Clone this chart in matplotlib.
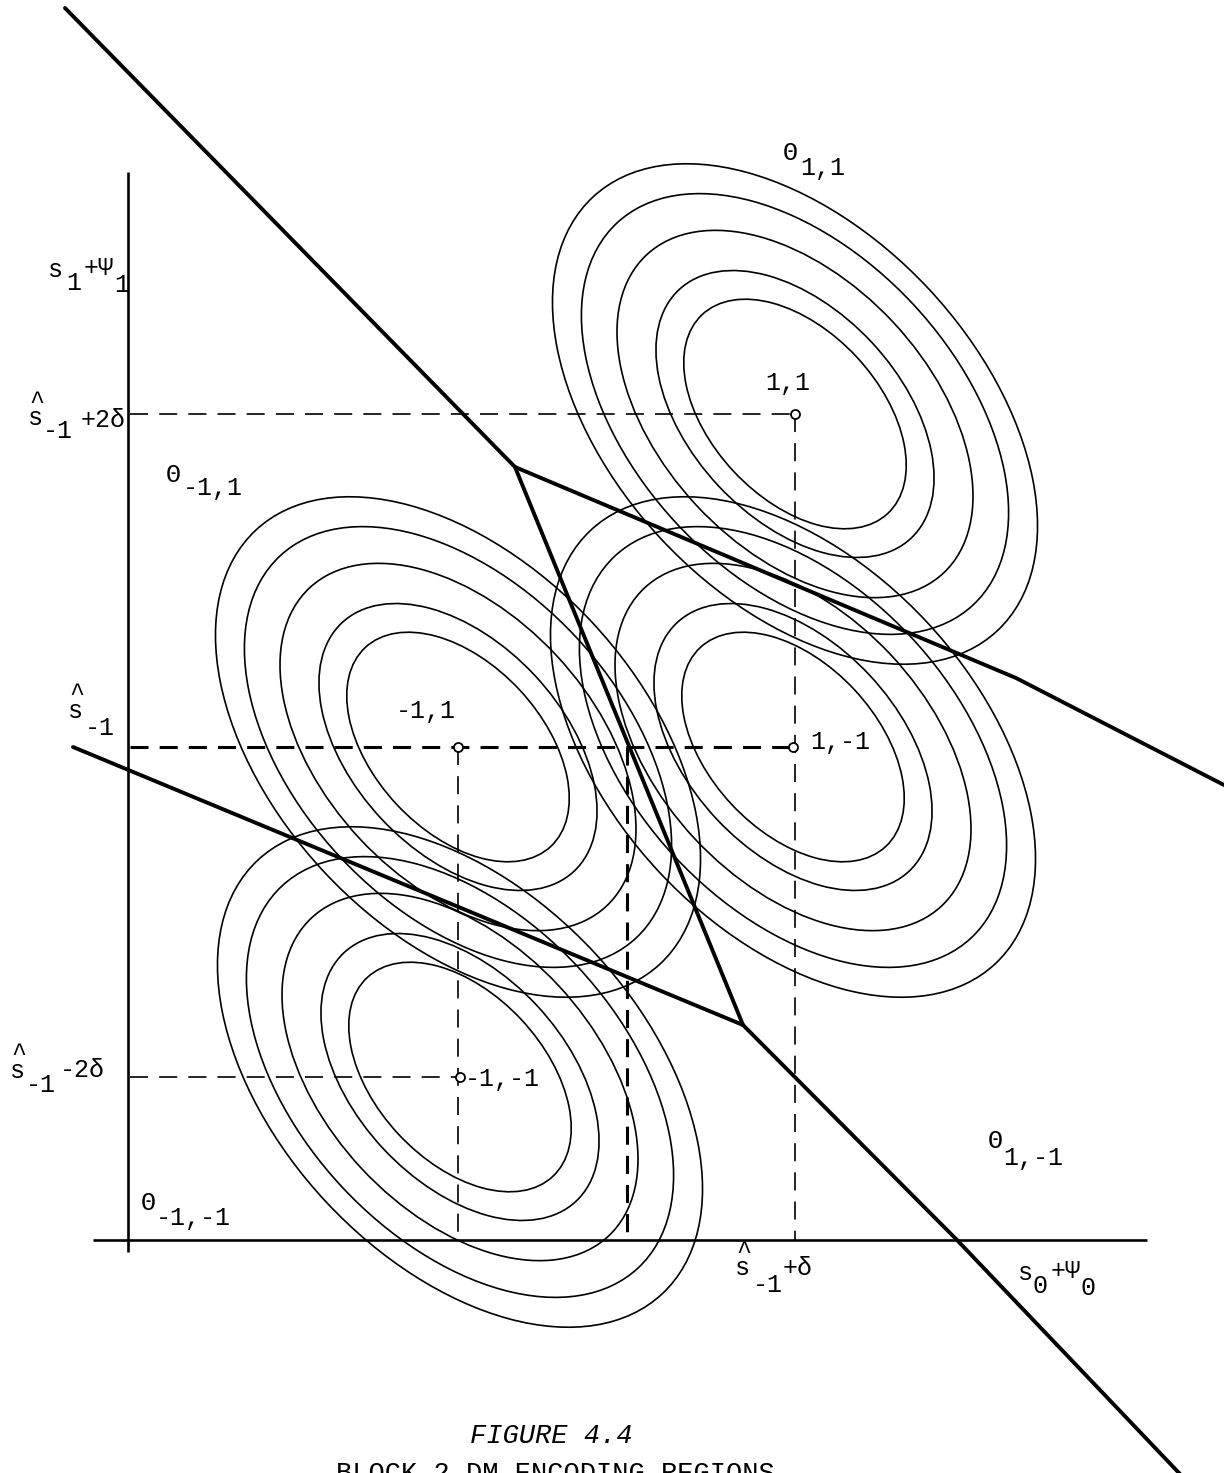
import matplotlib
matplotlib.use("Agg")
import matplotlib.pyplot as plt
from matplotlib.patches import Ellipse

# ---- data (page units: x to the right, y downward) ----
# signal points of the block-2 DM code
point_names = ["1,1", "-1,1", "1,-1", "-1,-1"]
point_x = [795, 458, 793, 460]
point_y = [414, 747, 747, 1077]

# equal-probability contours around every point
contour_scales = [1.0, 1.25, 1.6, 1.92, 2.18]
contour_major = 136
contour_minor = 84
contour_tilt = 47

# decision boundaries (polylines)
boundary_upper_left_x = [65, 515]
boundary_upper_left_y = [8, 467]
boundary_upper_right_x = [515, 1016, 1224]
boundary_upper_right_y = [467, 678, 785]
boundary_middle_x = [515, 743]
boundary_middle_y = [467, 1025]
boundary_lower_left_x = [73, 743]
boundary_lower_left_y = [747, 1025]
boundary_lower_right_x = [743, 957, 1100, 1180]
boundary_lower_right_y = [1025, 1240, 1390, 1474]

# axes of the signal plane
axis_origin_x = 128
axis_origin_y = 1240
vertical_axis_y = [172, 1252]
horizontal_axis_x = [93, 1147]

# reference levels: (x0, x1, y) horizontal, (x, y0, y1) vertical, heavy flag
h_levels = [(130, 795, 414, False), (130, 793, 747, True), (130, 460, 1077, False)]
v_levels = [(795, 414, 1240, False), (458, 747, 1240, False), (627, 747, 1240, True)]

plt.rcParams["lines.scale_dashes"] = False
MONO = ["Liberation Mono", "DejaVu Sans Mono"]

fig = plt.figure(figsize=(12.24, 14.73), dpi=100)
ax = fig.add_axes([0, 0, 1, 1])
ax.set_xlim(0, 1224)
ax.set_ylim(1473, 0)
ax.axis("off")

# contours
for cx, cy in zip(point_x, point_y):
    for s in contour_scales:
        ax.add_patch(Ellipse((cx, cy), 2 * contour_major * s, 2 * contour_minor * s,
                             angle=contour_tilt, fill=False, ec="black", lw=1.2))

# coordinate axes
ax.plot([axis_origin_x, axis_origin_x], vertical_axis_y, color="black", lw=1.9,
        solid_capstyle="butt")
ax.plot(horizontal_axis_x, [axis_origin_y, axis_origin_y], color="black", lw=1.9,
        solid_capstyle="butt")

# dashed reference levels
for x0, x1, y, heavy in h_levels:
    ax.plot([x0, x1], [y, y], color="black", lw=2.2 if heavy else 1.2,
            dashes=(13, 8))
for x, y0, y1, heavy in v_levels:
    ax.plot([x, x], [y0, y1], color="black", lw=2.2 if heavy else 1.2,
            dashes=(13, 8))

# decision boundaries
for bx, by in [(boundary_upper_left_x, boundary_upper_left_y),
               (boundary_upper_right_x, boundary_upper_right_y),
               (boundary_middle_x, boundary_middle_y),
               (boundary_lower_left_x, boundary_lower_left_y),
               (boundary_lower_right_x, boundary_lower_right_y)]:
    ax.plot(bx, by, color="black", lw=2.8, solid_joinstyle="miter",
            solid_capstyle="round")

# signal points
ax.plot(point_x, point_y, linestyle="none", marker="o", ms=6.5, mfc="white",
        mec="black", mew=1.3, zorder=5)


def put(x, y, s, size=18, **kw):
    ax.text(x, y, s, fontsize=size, family=MONO, ha="left", va="baseline",
            color="black", **kw)


# point labels
point_label_pos = [(765, 390), (396, 718), (810, 749), (465, 1086)]
for name, (lx, ly) in zip(point_names, point_label_pos):
    put(lx, ly, name)

# axis labels
put(48, 277, "s"); put(66, 290, "1"); put(84, 275, "+Ψ"); put(114, 292, "1")
put(1018, 1280, "s"); put(1033, 1293, "0"); put(1051, 1278, "+Ψ"); put(1081, 1295, "0")

# level labels
put(28, 425, "s"); put(29, 409, "^"); put(43, 438, "-1"); put(81, 427, "+2δ")
put(68, 718, "s"); put(69, 701, "^"); put(85, 735, "-1")
put(10, 1078, "s"); put(11, 1061, "^"); put(26, 1092, "-1"); put(60, 1077, "-2δ")
put(735, 1275, "s"); put(736, 1259, "^"); put(753, 1292, "-1"); put(783, 1275, "+δ")

# region labels
put(166, 482, "Θ"); put(183, 495, "-1,1")
put(141, 1210, "Θ"); put(156, 1225, "-1,-1")
put(988, 1148, "Θ"); put(1003, 1165, "1,-1")
put(783, 160, "Θ"); put(800, 175, "1,1")

# caption
put(470, 1443, "FIGURE 4.4", size=19.5, style="italic")
put(336, 1481, "BLOCK 2 DM ENCODING REGIONS", size=19.5)

fig.savefig("out.png", dpi=100, facecolor="white")
